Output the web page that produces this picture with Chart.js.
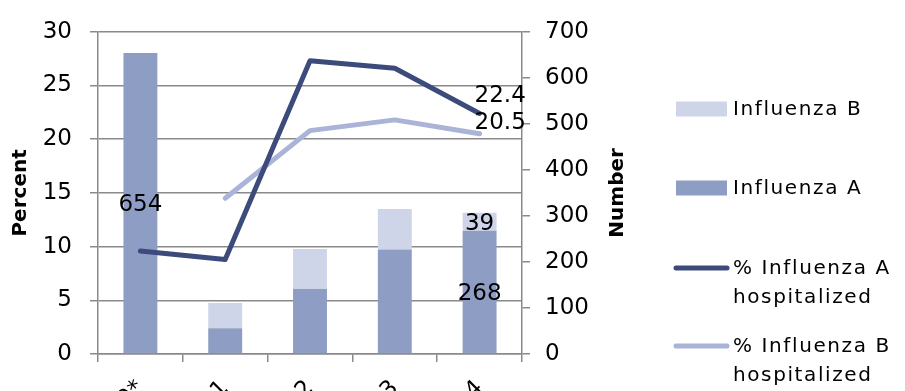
<!DOCTYPE html>
<html>
<head>
<meta charset="utf-8">
<script src="https://cdn.jsdelivr.net/npm/chart.js@4.4.1/dist/chart.umd.min.js"></script>
<style>
  html, body { margin: 0; padding: 0; background: #fff; overflow: hidden; }
  #wrap { width: 905px; height: 391px; position: relative; }
</style>
</head>
<body>
<div id="wrap"><canvas id="chart" width="905" height="391"></canvas></div>
<script>
// Age groups (years)
const ageGroups = ['0*', '1', '2', '3', '4'];

// Number of cases per age group
const influenzaA = [654, 56, 141, 227, 268];
const influenzaB = [null, 55, 87, 88, 39];

// Percent of cases hospitalized
const pctHospA = [9.6, 8.8, 27.3, 26.6, 22.4];
const pctHospB = [null, 14.5, 20.8, 21.8, 20.5];

// Axis ranges
const percentRange = [0, 30, 5];
const numberRange = [0, 700, 100];

const GRID = '#8a8a8a';
const COLORS = {
  barA: '#8e9dc4',
  barB: '#cfd5e8',
  lineA: '#3c4b7b',
  lineB: '#aab4d6'
};
const FONT = 'DejaVu Sans';

// Value labels drawn next to selected marks
const valueLabels = [
  { ds: 0, i: 0, mode: 'center' },
  { ds: 0, i: 4, mode: 'center' },
  { ds: 1, i: 4, mode: 'center' },
  { ds: 2, i: 4, mode: 'side', dx: -5, dy: -17 },
  { ds: 3, i: 4, mode: 'side', dx: -5, dy: -11 }
];

const legendItems = [
  { type: 'box', color: COLORS.barB, lines: ['Influenza B'], y: 109 },
  { type: 'box', color: COLORS.barA, lines: ['Influenza A'], y: 188 },
  { type: 'line', color: COLORS.lineA, lines: ['% Influenza A', 'hospitalized'], y: 268 },
  { type: 'line', color: COLORS.lineB, lines: ['% Influenza B', 'hospitalized'], y: 346 }
];

const decor = {
  id: 'decor',
  afterDatasetsDraw(chart) {
    const ctx = chart.ctx;
    ctx.save();
    ctx.fillStyle = '#000';
    ctx.font = '23px "' + FONT + '"';
    ctx.textBaseline = 'middle';
    valueLabels.forEach(l => {
      const meta = chart.getDatasetMeta(l.ds);
      const el = meta.data[l.i];
      const v = chart.data.datasets[l.ds].data[l.i];
      if (!el || v == null) return;
      if (l.mode === 'center') {
        ctx.textAlign = 'center';
        ctx.fillText(String(v), el.x, (el.y + el.base) / 2 + 2);
      } else {
        ctx.textAlign = 'left';
        ctx.fillText(v.toFixed(1), el.x + l.dx, el.y + l.dy);
      }
    });
    ctx.restore();
  },
  afterDraw(chart) {
    const ctx = chart.ctx;
    const area = chart.chartArea;
    const midY = (area.top + area.bottom) / 2;
    ctx.save();
    // Axis titles
    ctx.fillStyle = '#000';
    ctx.font = 'bold 20px "' + FONT + '"';
    ctx.textAlign = 'center';
    ctx.textBaseline = 'middle';
    [['Percent', 21], ['Number', 618]].forEach(([t, x]) => {
      ctx.save();
      ctx.translate(x, midY);
      ctx.rotate(-Math.PI / 2);
      ctx.fillText(t, 0, 0);
      ctx.restore();
    });
    // Legend
    ctx.font = '20px "' + FONT + '"';
    ctx.textAlign = 'left';
    ctx.letterSpacing = '1.6px';
    legendItems.forEach(it => {
      if (it.type === 'box') {
        ctx.fillStyle = it.color;
        ctx.fillRect(676, it.y - 7.5, 51, 15);
      } else {
        ctx.strokeStyle = it.color;
        ctx.lineWidth = 5;
        ctx.lineCap = 'round';
        ctx.beginPath();
        ctx.moveTo(676, it.y);
        ctx.lineTo(727, it.y);
        ctx.stroke();
      }
      ctx.fillStyle = '#000';
      it.lines.forEach((t, k) => ctx.fillText(t, 733, it.y + 1 + k * 29));
    });
    ctx.restore();
  }
};

new Chart(document.getElementById('chart'), {
  data: {
    labels: ageGroups,
    datasets: [
      { type: 'bar', label: 'Influenza A', data: influenzaA, yAxisID: 'y1',
        backgroundColor: COLORS.barA, stack: 'n', order: 2,
        categoryPercentage: 0.4, barPercentage: 1 },
      { type: 'bar', label: 'Influenza B', data: influenzaB, yAxisID: 'y1',
        backgroundColor: COLORS.barB, stack: 'n', order: 2,
        categoryPercentage: 0.4, barPercentage: 1 },
      { type: 'line', label: '% Influenza A hospitalized', data: pctHospA, yAxisID: 'y',
        borderColor: COLORS.lineA, borderWidth: 5, pointRadius: 0, tension: 0,
        borderCapStyle: 'round', borderJoinStyle: 'round', order: 0, spanGaps: false },
      { type: 'line', label: '% Influenza B hospitalized', data: pctHospB, yAxisID: 'y',
        borderColor: COLORS.lineB, borderWidth: 5, pointRadius: 0, tension: 0,
        borderCapStyle: 'round', borderJoinStyle: 'round', order: 1, spanGaps: false }
    ]
  },
  options: {
    responsive: false,
    animation: false,
    devicePixelRatio: 1,
    layout: { padding: { top: 25, left: 0, right: 0, bottom: 0 } },
    plugins: { legend: { display: false }, tooltip: { enabled: false } },
    scales: {
      x: {
        stacked: true,
        offset: true,
        grid: { offset: true, drawOnChartArea: false, drawTicks: true, tickLength: 8, color: GRID, lineWidth: 1.5 },
        border: { color: GRID, width: 1.5 },
        ticks: { color: '#000', font: { family: FONT, size: 23 }, minRotation: 45, maxRotation: 45, autoSkip: false, padding: 13 },
        afterFit(s) { s.height = 37; }
      },
      y: {
        position: 'left',
        min: percentRange[0], max: percentRange[1],
        grid: { color: GRID, lineWidth: 1.5, tickLength: 8 },
        border: { color: GRID, width: 1.5 },
        ticks: { stepSize: percentRange[2], color: '#000', font: { family: FONT, size: 23 }, padding: 18 },
        afterFit(s) { s.width = 98; }
      },
      y1: {
        position: 'right',
        stacked: true,
        min: numberRange[0], max: numberRange[1],
        grid: { drawOnChartArea: false, color: GRID, lineWidth: 1.5, tickLength: 8 },
        border: { color: GRID, width: 1.5 },
        ticks: { stepSize: numberRange[2], color: '#000', font: { family: FONT, size: 23 }, padding: 15 },
        afterFit(s) { s.width = 905 - 522; }
      }
    }
  },
  plugins: [decor]
});
</script>
</body>
</html>
